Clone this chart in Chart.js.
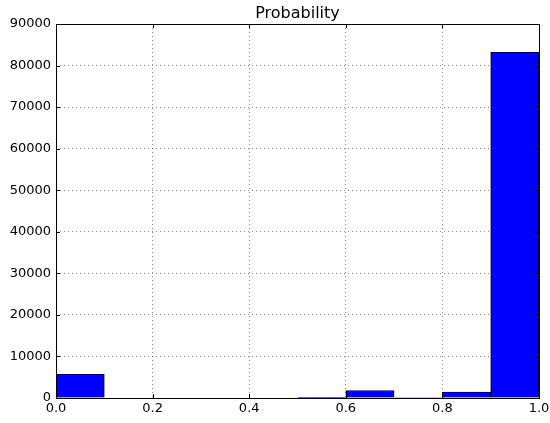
<!DOCTYPE html>
<html>
<head>
<meta charset="UTF-8">
<script src="https://cdn.jsdelivr.net/npm/chart.js@4/dist/chart.umd.min.js"></script>
<style>
  html, body { margin: 0; padding: 0; background: #fff; }
  #wrap { width: 550px; height: 423px; }
</style>
</head>
<body>
<div id="wrap"><canvas id="hist"></canvas></div>
<script>
// histogram bins (edges) and counts
const binEdges = [0.0, 0.1, 0.2, 0.3, 0.4, 0.5, 0.6, 0.7, 0.8, 0.9, 1.0];
const counts = [5700, 0, 0, 0, 0, 150, 1800, 120, 1400, 83200];
const xTicks = [0.0, 0.2, 0.4, 0.6, 0.8, 1.0];
const yTicks = [0, 10000, 20000, 30000, 40000, 50000, 60000, 70000, 80000, 90000];
const titleText = 'Probability';

const points = counts.map((c, i) => ({ x: (binEdges[i] + binEdges[i + 1]) / 2, y: c }));

// black frame + inward tick marks + title centred over the axes, matplotlib style
const framePlugin = {
  id: 'frame',
  afterDraw(chart) {
    const { ctx, chartArea: a, scales } = chart;
    ctx.save();
    ctx.strokeStyle = '#000';
    ctx.lineWidth = 1;
    ctx.beginPath();
    xTicks.forEach(v => {
      const px = Math.round(scales.x.getPixelForValue(v)) + 0.5;
      ctx.moveTo(px, a.bottom); ctx.lineTo(px, a.bottom - 4);
      ctx.moveTo(px, a.top); ctx.lineTo(px, a.top + 4);
    });
    yTicks.forEach(v => {
      const py = Math.round(scales.y.getPixelForValue(v)) + 0.5;
      ctx.moveTo(a.left, py); ctx.lineTo(a.left + 4, py);
      ctx.moveTo(a.right, py); ctx.lineTo(a.right - 4, py);
    });
    ctx.stroke();
    ctx.strokeRect(Math.round(a.left) + 0.5, Math.round(a.top) + 0.5,
                   Math.round(a.right - a.left), Math.round(a.bottom - a.top));

    ctx.fillStyle = '#000';
    ctx.font = "16px 'DejaVu Sans'";
    ctx.textAlign = 'center';
    ctx.textBaseline = 'alphabetic';
    ctx.fillText(titleText, (a.left + a.right) / 2, a.top - 6);
    ctx.restore();
  }
};

const gridStyle = {
  color: 'rgba(0,0,0,0.45)',
  lineWidth: 1,
  offset: false,
  drawTicks: false
};

new Chart(document.getElementById('hist'), {
  type: 'bar',
  data: {
    datasets: [{
      data: points,
      backgroundColor: '#0000ff',
      borderColor: '#000',
      borderWidth: 1,
      barPercentage: 1,
      categoryPercentage: 1
    }]
  },
  options: {
    responsive: true,
    maintainAspectRatio: false,
    animation: false,
    layout: { padding: { left: 0, right: 0, top: 24, bottom: 0 } },
    plugins: {
      legend: { display: false },
      tooltip: { enabled: false },
      title: { display: false }
    },
    scales: {
      x: {
        type: 'linear',
        min: 0, max: 1,
        offset: false,
        z: 1,
        grid: gridStyle,
        border: { display: false, dash: [1, 3] },
        afterBuildTicks: s => { s.ticks = xTicks.map(v => ({ value: v })); },
        afterFit: s => { s.height = 25; s.paddingRight = 11; },
        ticks: {
          color: '#000',
          padding: 3,
          maxRotation: 0,
          font: { family: "'DejaVu Sans'", size: 13 },
          callback: v => v.toFixed(1)
        }
      },
      y: {
        min: 0, max: 90000,
        z: 1,
        grid: gridStyle,
        border: { display: false, dash: [1, 3] },
        afterBuildTicks: s => { s.ticks = yTicks.map(v => ({ value: v })); },
        afterFit: s => { s.width = 56; },
        ticks: {
          color: '#000',
          padding: 5,
          font: { family: "'DejaVu Sans'", size: 13 },
          callback: v => String(v)
        }
      }
    }
  },
  plugins: [framePlugin]
});
</script>
</body>
</html>
